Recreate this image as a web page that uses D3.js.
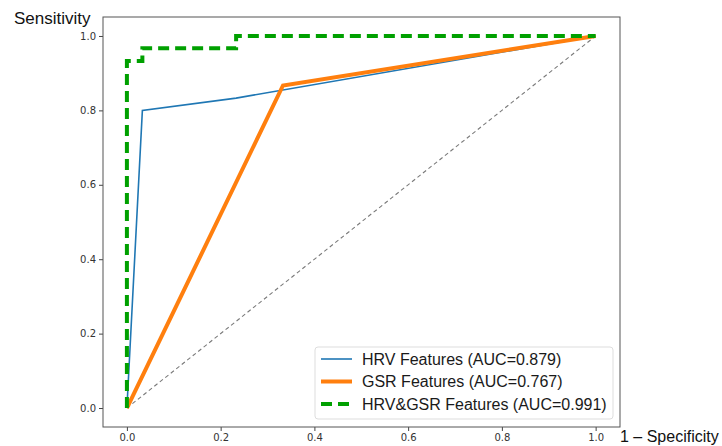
<!DOCTYPE html>
<html>
<head>
<meta charset="utf-8">
<script src="https://cdn.jsdelivr.net/npm/d3@7"></script>
<style>
  body { margin: 0; background: #fff; }
  svg text { font-family: "DejaVu Sans", sans-serif; }
</style>
</head>
<body>
<div id="canvas"></div>
<script>
"use strict";

/* Data: ROC curve points, [1 - specificity, sensitivity] */
let hrvFpr = [0, 0.033, 0.233, 1];
let hrvTpr = [0, 0.8, 0.833, 1];

let gsrFpr = [0, 0.333, 1];
let gsrTpr = [0, 0.867, 1];

let bothFpr = [0, 0, 0.033, 0.033, 0.233, 0.233, 1];
let bothTpr = [0, 0.933, 0.933, 0.967, 0.967, 1, 1];

let chanceFpr = [0, 1];
let chanceTpr = [0, 1];

let seriesNames = ["HRV Features (AUC=0.879)", "GSR Features (AUC=0.767)", "HRV&GSR Features (AUC=0.991)"];
let tickValues = [0, 0.2, 0.4, 0.6, 0.8, 1.0];

/* Drawing config */
let svgWidth = 722;
let svgHeight = 446;
let plotLeft = 103, plotRight = 620, plotTop = 17, plotBottom = 427;

let svg = d3.select("#canvas")
  .append("svg")
  .attr("width", svgWidth)
  .attr("height", svgHeight);

let xScale = d3.scaleLinear()
  .domain([-0.051, 1.052])
  .range([plotLeft, plotRight]);

let yScale = d3.scaleLinear()
  .domain([-0.051, 1.051])
  .range([plotBottom, plotTop]);

function toPoints(xs, ys) {
  let pts = [];
  for (let i = 0; i < xs.length; i = i + 1) {
    pts.push([xs[i], ys[i]]);
  }
  return pts;
}

let line = d3.line()
  .x(function (d) { return xScale(d[0]); })
  .y(function (d) { return yScale(d[1]); });

/* Axes */
let xAxis = svg.append("g")
  .attr("transform", "translate(0," + plotBottom + ")")
  .call(d3.axisBottom(xScale).tickValues(tickValues).tickFormat(d3.format(".1f")).tickSizeOuter(0).tickSize(4).tickPadding(3));

let yAxis = svg.append("g")
  .attr("transform", "translate(" + plotLeft + ",0)")
  .call(d3.axisLeft(yScale).tickValues(tickValues).tickFormat(d3.format(".1f")).tickSizeOuter(0).tickSize(4).tickPadding(3));

[xAxis, yAxis].forEach(function (ax) {
  ax.select(".domain").remove();
  ax.selectAll("line").attr("stroke", "#444");
  ax.selectAll("text")
    .attr("fill", "#333")
    .attr("font-size", "10px")
    .attr("font-family", "DejaVu Sans, sans-serif");
});

/* Chance diagonal */
svg.append("path")
  .attr("d", line(toPoints(chanceFpr, chanceTpr)))
  .attr("fill", "none")
  .attr("stroke", "#7a7a7a")
  .attr("stroke-width", 1.1)
  .attr("stroke-dasharray", "4,3");

/* ROC curves */
let styles = [
  { color: "#1f77b4", width: 1.6, dash: null },
  { color: "#ff7f0e", width: 4, dash: null },
  { color: "#00a000", width: 4, dash: "11,6" }
];
let curveData = [
  toPoints(hrvFpr, hrvTpr),
  toPoints(gsrFpr, gsrTpr),
  toPoints(bothFpr, bothTpr)
];

for (let i = 0; i < curveData.length; i = i + 1) {
  svg.append("path")
    .attr("d", line(curveData[i]))
    .attr("fill", "none")
    .attr("stroke", styles[i].color)
    .attr("stroke-width", styles[i].width)
    .attr("stroke-linejoin", "miter")
    .attr("stroke-dasharray", styles[i].dash);
}

/* Frame */
svg.append("rect")
  .attr("x", plotLeft)
  .attr("y", plotTop)
  .attr("width", plotRight - plotLeft)
  .attr("height", plotBottom - plotTop)
  .attr("fill", "none")
  .attr("stroke", "#555")
  .attr("stroke-width", 1);

/* Legend */
let legendX = 315, legendY = 347;
svg.append("rect")
  .attr("x", legendX)
  .attr("y", legendY)
  .attr("width", 298)
  .attr("height", 72)
  .attr("rx", 3)
  .attr("fill", "#fff")
  .attr("fill-opacity", 0.8)
  .attr("stroke", "#ddd");

for (let i = 0; i < seriesNames.length; i = i + 1) {
  let rowY = legendY + 12 + i * 22.5;
  svg.append("line")
    .attr("x1", legendX + 6)
    .attr("x2", legendX + 37)
    .attr("y1", rowY)
    .attr("y2", rowY)
    .attr("stroke", styles[i].color)
    .attr("stroke-width", styles[i].width)
    .attr("stroke-dasharray", styles[i].dash);

  svg.append("text")
    .attr("x", legendX + 47)
    .attr("y", rowY)
    .attr("dy", "0.35em")
    .attr("font-size", "16px")
    .style("font-family", "'Liberation Sans', Arial, sans-serif")
    .attr("fill", "#1a1a1a")
    .text(seriesNames[i]);
}

/* Axis labels */
svg.append("text")
  .attr("x", 14)
  .attr("y", 24)
  .attr("font-size", "17px")
  .style("font-family", "'Liberation Sans', Arial, sans-serif")
  .attr("fill", "#111")
  .text("Sensitivity");

svg.append("text")
  .attr("x", 620)
  .attr("y", 442)
  .attr("font-size", "16px")
  .style("font-family", "'Liberation Sans', Arial, sans-serif")
  .attr("fill", "#111")
  .text("1 \u2013 Specificity");
</script>
</body>
</html>
